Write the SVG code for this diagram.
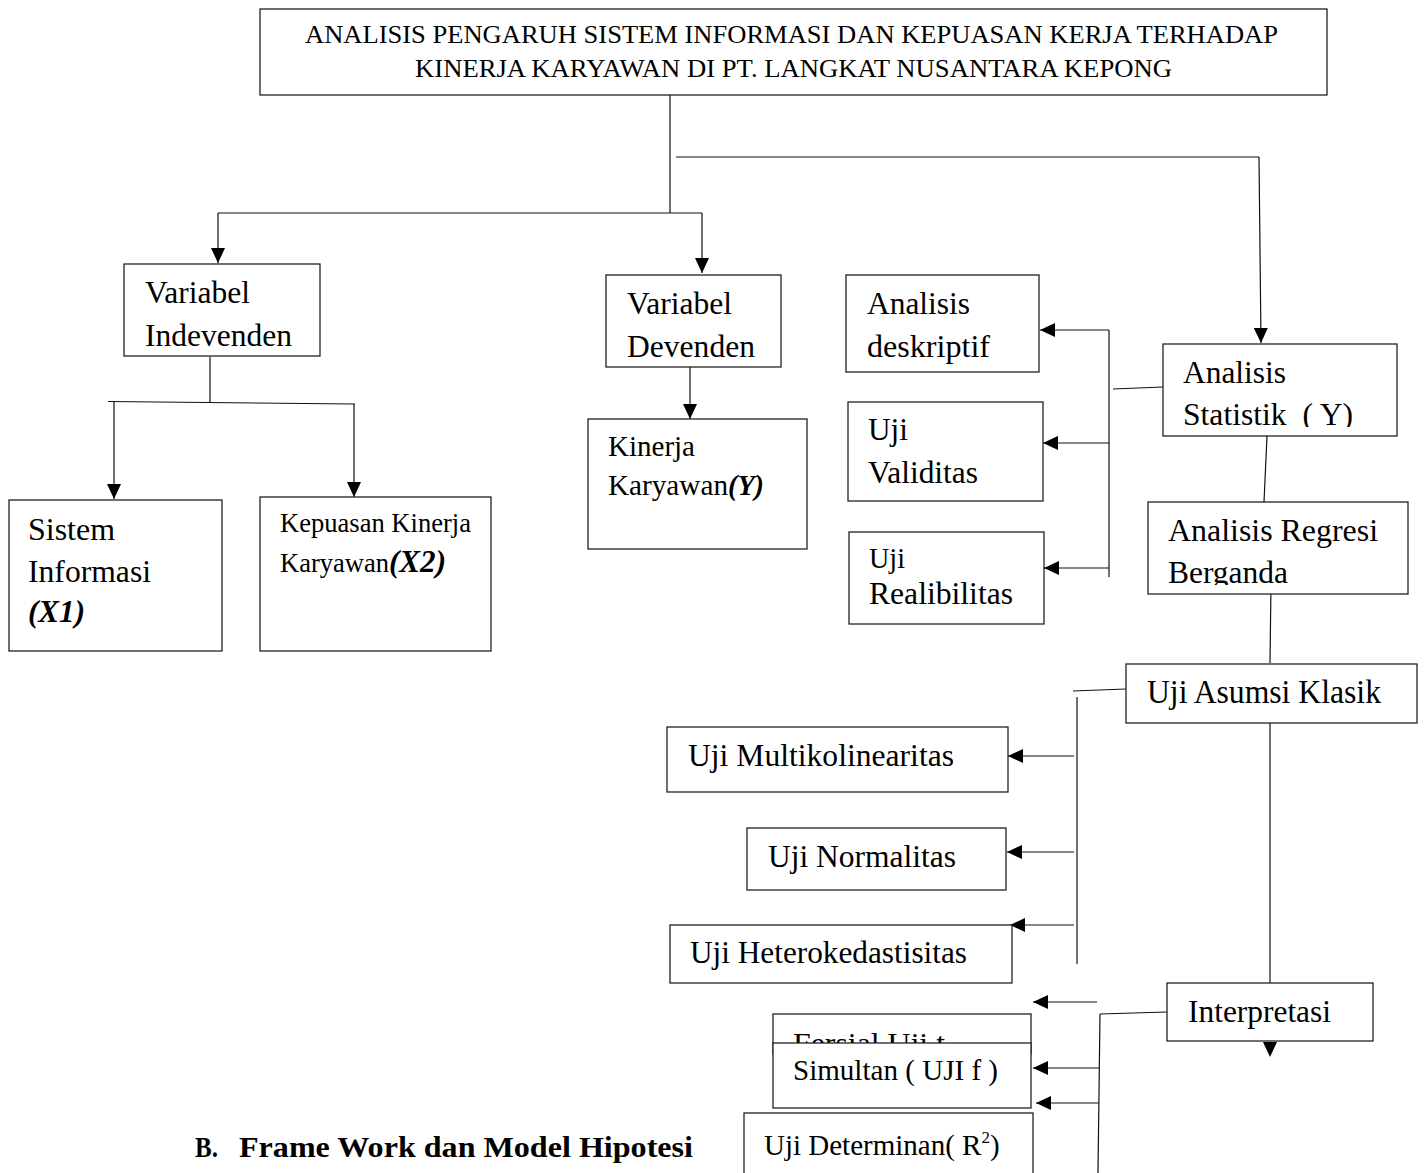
<svg xmlns="http://www.w3.org/2000/svg" width="1425" height="1173" viewBox="0 0 1425 1173" font-family="'Liberation Serif', 'Times New Roman', Times, serif">
<style>
  .box{fill:#fff;stroke:#222;stroke-width:1.3}
  .t{fill:#000}
  .ln{fill:none;stroke:#111;stroke-width:1.2}
  .ar{fill:none;stroke:#111;stroke-width:1.2;marker-end:url(#ah)}
</style>
<defs>
  <marker id="ah" viewBox="0 0 15 14" refX="15" refY="7" markerWidth="15" markerHeight="14" markerUnits="userSpaceOnUse" orient="auto">
    <path d="M0,0 L15,7 L0,14 Z" fill="#000"/>
  </marker>
  <clipPath id="clipStat"><rect x="1163" y="344" width="234" height="83"/></clipPath>
  <clipPath id="clipReg"><rect x="1148" y="502" width="260" height="83"/></clipPath>
  <clipPath id="clipFer"><rect x="773" y="1014" width="258" height="29"/></clipPath>
</defs>

<g id="connectors">
  <line class="ln" x1="670" y1="95" x2="670" y2="213"/>
  <line class="ln" x1="218" y1="213" x2="702" y2="213"/>
  <line class="ar" x1="218" y1="213" x2="218" y2="263"/>
  <line class="ar" x1="702" y1="213" x2="702" y2="273"/>
  <polyline class="ln" points="676,157 1259,157"/>
  <line class="ar" x1="1259" y1="157" x2="1261" y2="343"/>

  <line class="ln" x1="210" y1="357" x2="210" y2="402"/>
  <line class="ln" x1="108" y1="401.5" x2="355" y2="404"/>
  <line class="ar" x1="114" y1="402" x2="114" y2="499"/>
  <line class="ar" x1="354" y1="404" x2="354" y2="497"/>

  <line class="ar" x1="690" y1="367" x2="690" y2="419"/>

  <line class="ln" x1="1113" y1="389" x2="1163" y2="387"/>
  <line class="ln" x1="1109" y1="330" x2="1109" y2="577"/>
  <line class="ar" x1="1109" y1="330" x2="1040" y2="330"/>
  <line class="ar" x1="1109" y1="443" x2="1043" y2="443"/>
  <line class="ar" x1="1109" y1="568" x2="1044" y2="568"/>

  <line class="ln" x1="1267" y1="436" x2="1264" y2="502"/>
  <line class="ln" x1="1271" y1="584" x2="1270" y2="663"/>

  <line class="ln" x1="1126" y1="689" x2="1073" y2="691"/>
  <line class="ln" x1="1077" y1="697" x2="1077" y2="964"/>
  <line class="ar" x1="1074" y1="756" x2="1008" y2="756"/>
  <line class="ar" x1="1074" y1="852" x2="1007" y2="852"/>
  <line class="ar" x1="1074" y1="925" x2="1010" y2="925"/>
  <line class="ln" x1="1270" y1="723" x2="1270" y2="983"/>

  <line class="ar" x1="1097" y1="1002" x2="1033" y2="1002"/>
  <line class="ln" x1="1167" y1="1012" x2="1100" y2="1014"/>
  <line class="ln" x1="1100" y1="1014" x2="1098" y2="1173"/>
  <line class="ar" x1="1099" y1="1068" x2="1033" y2="1068"/>
  <line class="ar" x1="1099" y1="1103" x2="1036" y2="1103"/>
  <path d="M1263,1042 L1277,1042 L1270,1057 Z" fill="#000"/>
</g>

<g id="title">
  <rect class="box" x="260" y="9" width="1067" height="86"/>
  <text class="t" x="305" y="43" font-size="26" textLength="973" lengthAdjust="spacingAndGlyphs">ANALISIS PENGARUH SISTEM INFORMASI DAN KEPUASAN KERJA TERHADAP</text>
  <text class="t" x="415" y="77" font-size="26" textLength="757" lengthAdjust="spacingAndGlyphs">KINERJA KARYAWAN DI PT. LANGKAT NUSANTARA KEPONG</text>
</g>

<g id="variabel-indevenden">
  <rect class="box" x="124" y="264" width="196" height="92"/>
  <text class="t" x="145" y="303" font-size="32" textLength="105" lengthAdjust="spacingAndGlyphs">Variabel</text>
  <text class="t" x="145" y="346" font-size="32" textLength="147" lengthAdjust="spacingAndGlyphs">Indevenden</text>
</g>

<g id="sistem-informasi">
  <rect class="box" x="9" y="500" width="213" height="151"/>
  <text class="t" x="28" y="540" font-size="32" textLength="87" lengthAdjust="spacingAndGlyphs">Sistem</text>
  <text class="t" x="28" y="582" font-size="32" textLength="123" lengthAdjust="spacingAndGlyphs">Informasi</text>
  <text class="t" x="28" y="622" font-size="32" font-weight="bold" font-style="italic" textLength="57" lengthAdjust="spacingAndGlyphs">(X1)</text>
</g>

<g id="kepuasan">
  <rect class="box" x="260" y="497" width="231" height="154"/>
  <text class="t" x="280" y="532" font-size="27" textLength="191" lengthAdjust="spacingAndGlyphs">Kepuasan Kinerja</text>
  <text class="t" x="280" y="572" font-size="27" textLength="109" lengthAdjust="spacingAndGlyphs">Karyawan</text>
  <text class="t" x="389" y="572" font-size="31" font-weight="bold" font-style="italic" textLength="57" lengthAdjust="spacingAndGlyphs">(X2)</text>
</g>

<g id="variabel-devenden">
  <rect class="box" x="606" y="275" width="175" height="92"/>
  <text class="t" x="627" y="314" font-size="32" textLength="105" lengthAdjust="spacingAndGlyphs">Variabel</text>
  <text class="t" x="627" y="357" font-size="32" textLength="128" lengthAdjust="spacingAndGlyphs">Devenden</text>
</g>

<g id="kinerja-karyawan">
  <rect class="box" x="588" y="419" width="219" height="130"/>
  <text class="t" x="608" y="456" font-size="30" textLength="87" lengthAdjust="spacingAndGlyphs">Kinerja</text>
  <text class="t" x="608" y="495" font-size="30" textLength="120" lengthAdjust="spacingAndGlyphs">Karyawan</text>
  <text class="t" x="728" y="495" font-size="30" font-weight="bold" font-style="italic" textLength="36" lengthAdjust="spacingAndGlyphs">(Y)</text>
</g>

<g id="analisis-deskriptif">
  <rect class="box" x="846" y="275" width="193" height="97"/>
  <text class="t" x="867" y="314" font-size="32" textLength="103" lengthAdjust="spacingAndGlyphs">Analisis</text>
  <text class="t" x="867" y="357" font-size="32" textLength="123" lengthAdjust="spacingAndGlyphs">deskriptif</text>
</g>

<g id="uji-validitas">
  <rect class="box" x="848" y="402" width="195" height="99"/>
  <text class="t" x="868" y="440" font-size="32" textLength="40" lengthAdjust="spacingAndGlyphs">Uji</text>
  <text class="t" x="868" y="483" font-size="32" textLength="110" lengthAdjust="spacingAndGlyphs">Validitas</text>
</g>

<g id="uji-realibilitas">
  <rect class="box" x="849" y="532" width="195" height="92"/>
  <text class="t" x="869" y="568" font-size="29" textLength="36" lengthAdjust="spacingAndGlyphs">Uji</text>
  <text class="t" x="869" y="604" font-size="32" textLength="144" lengthAdjust="spacingAndGlyphs">Realibilitas</text>
</g>

<g id="analisis-statistik">
  <rect class="box" x="1163" y="344" width="234" height="92"/>
  <g clip-path="url(#clipStat)">
    <text class="t" x="1183" y="383" font-size="32" textLength="103" lengthAdjust="spacingAndGlyphs">Analisis</text>
    <text class="t" x="1183" y="425" font-size="32" textLength="170" lengthAdjust="spacingAndGlyphs" xml:space="preserve">Statistik  ( Y)</text>
  </g>
</g>

<g id="analisis-regresi">
  <rect class="box" x="1148" y="502" width="260" height="92"/>
  <g clip-path="url(#clipReg)">
    <text class="t" x="1168" y="541" font-size="32" textLength="210" lengthAdjust="spacingAndGlyphs">Analisis Regresi</text>
    <text class="t" x="1168" y="583" font-size="32" textLength="120" lengthAdjust="spacingAndGlyphs">Berganda</text>
  </g>
</g>

<g id="uji-asumsi-klasik">
  <rect class="box" x="1126" y="664" width="291" height="59"/>
  <text class="t" x="1147" y="703" font-size="33" textLength="234" lengthAdjust="spacingAndGlyphs">Uji Asumsi Klasik</text>
</g>

<g id="uji-multikolinearitas">
  <rect class="box" x="667" y="727" width="341" height="65"/>
  <text class="t" x="688" y="766" font-size="32" textLength="266" lengthAdjust="spacingAndGlyphs">Uji Multikolinearitas</text>
</g>

<g id="uji-normalitas">
  <rect class="box" x="747" y="828" width="259" height="62"/>
  <text class="t" x="768" y="867" font-size="32" textLength="188" lengthAdjust="spacingAndGlyphs">Uji Normalitas</text>
</g>

<g id="uji-heterokedastisitas">
  <rect class="box" x="670" y="925" width="342" height="58"/>
  <text class="t" x="690" y="963" font-size="32" textLength="277" lengthAdjust="spacingAndGlyphs">Uji Heterokedastisitas</text>
</g>

<g id="interpretasi">
  <rect class="box" x="1167" y="983" width="206" height="58"/>
  <text class="t" x="1188" y="1022" font-size="32" textLength="143" lengthAdjust="spacingAndGlyphs">Interpretasi</text>
</g>

<g id="fersial-uji-t">
  <rect class="box" x="773" y="1014" width="258" height="40"/>
  <g clip-path="url(#clipFer)">
    <text class="t" x="793" y="1053" font-size="30" textLength="152" lengthAdjust="spacingAndGlyphs">Fersial Uji t</text>
  </g>
</g>

<g id="simultan">
  <rect class="box" x="773" y="1043" width="258" height="65"/>
  <text class="t" x="793" y="1080" font-size="30" textLength="205" lengthAdjust="spacingAndGlyphs" xml:space="preserve">Simultan ( UJI f )</text>
</g>

<g id="uji-determinan">
  <rect class="box" x="744" y="1113" width="289" height="80"/>
  <text class="t" x="764" y="1155" font-size="29">Uji Determinan( R<tspan font-size="17" dy="-12">2</tspan><tspan dy="12">)</tspan></text>
</g>

<g id="heading">
  <text class="t" x="195" y="1157" font-size="30" font-weight="bold" textLength="23" lengthAdjust="spacingAndGlyphs">B.</text>
  <text class="t" x="239" y="1157" font-size="30" font-weight="bold" textLength="454" lengthAdjust="spacingAndGlyphs">Frame Work dan Model Hipotesi</text>
</g>
</svg>
